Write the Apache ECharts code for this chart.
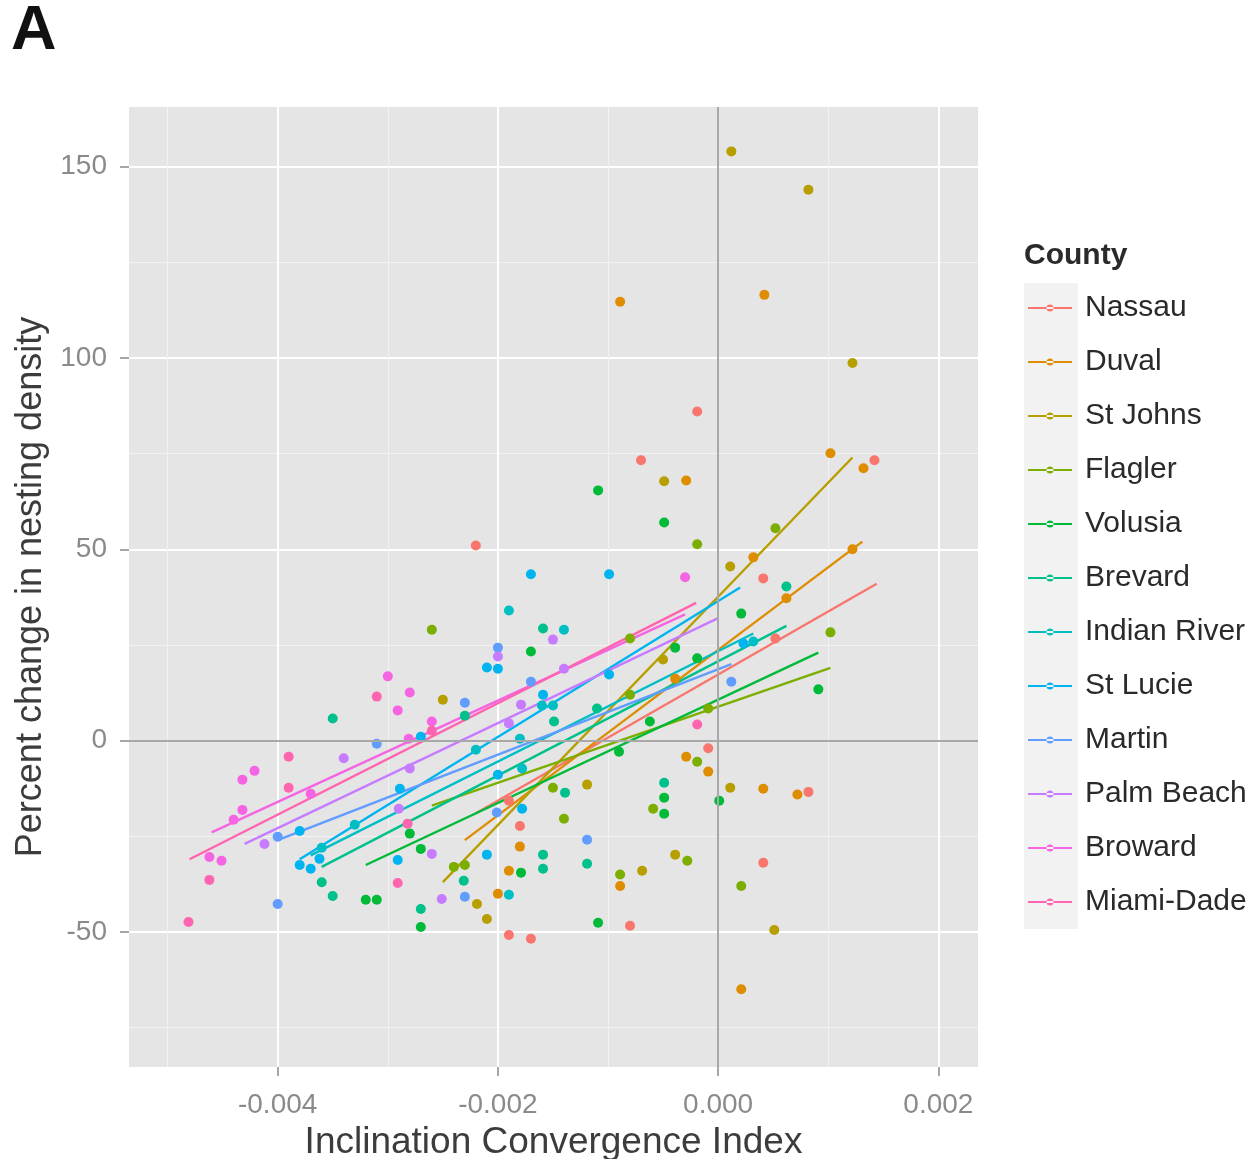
<!DOCTYPE html>
<html>
<head>
<meta charset="utf-8">
<script src="https://cdn.jsdelivr.net/npm/echarts@6/dist/echarts.min.js"></script>
<style>
  html, body { margin: 0; padding: 0; background: #fff; }
  #chart { width: 1254px; height: 1159px; }
</style>
</head>
<body>
<div id="chart"></div>
<script>
// Comtés (ordre de la légende) et couleurs ggplot
const counties = ['Nassau', 'Duval', 'St Johns', 'Flagler', 'Volusia', 'Brevard',
    'Indian River', 'St Lucie', 'Martin', 'Palm Beach', 'Broward', 'Miami-Dade'];
const colors = ['#F8766D', '#DE8C00', '#B79F00', '#7CAE00', '#00BA38', '#00C08B',
    '#00BFC4', '#00B4F0', '#619CFF', '#C77CFF', '#F564E3', '#FF64B0'];

// Points : [indice, variation %]
const nassau = [[-0.00019, 86], [-0.0007, 73.3], [0.00142, 73.3], [-0.0022, 51], [0.00041, 42.4],
    [0.00052, 26.7], [-0.00009, -2], [0.00082, -13.4], [0.00041, -31.9], [-0.0008, -48.4],
    [-0.0018, -22.3], [-0.0019, -50.8], [-0.0017, -51.8], [-0.0019, -15.7]];
const duval = [[0.00042, 116.5], [-0.00089, 114.7], [0.00102, 75.1], [0.00132, 71.2], [-0.00029, 68],
    [0.00032, 47.9], [0.00122, 50], [0.00062, 37.2], [-0.00039, 16.2], [-0.00029, -4.2], [-0.00009, -8.1],
    [0.00041, -12.6], [0.00072, -14.1], [-0.00089, -38], [0.00021, -65], [-0.0018, -27.7],
    [-0.0019, -34], [-0.002, -40]];
const stJohns = [[0.00012, 154], [0.00082, 144], [0.00122, 98.7], [-0.00049, 67.8], [0.00011, 45.5],
    [-0.0005, 21.2], [-0.00119, -11.5], [0.00011, -12.3], [-0.00039, -29.8], [-0.00069, -34],
    [0.00051, -49.5], [-0.0025, 10.7], [-0.00219, -42.7], [-0.0021, -46.6]];
const flagler = [[-0.00019, 51.3], [0.00052, 55.5], [0.00102, 28.3], [-0.0008, 26.7], [-0.0008, 12],
    [-0.00009, 8.4], [-0.00019, -5.5], [-0.00059, -17.8], [-0.00028, -31.4], [-0.00089, -35],
    [0.00021, -38], [-0.0015, -12.3], [-0.0014, -20.4], [-0.0024, -33], [-0.0026, 29], [-0.0023, -32.5]];
const volusia = [[-0.00109, 65.4], [-0.00049, 57], [0.00021, 33.2], [0.00091, 13.4], [-0.00039, 24.3],
    [-0.00019, 21.5], [-0.00049, -14.9], [-0.00049, -19.1], [0.00001, -15.7], [-0.00109, -47.6],
    [-0.0017, 23.3], [-0.0009, -2.9], [-0.00062, 5], [-0.0027, -28.3], [-0.00179, -34.5],
    [-0.0027, -48.7], [-0.0032, -41.6], [-0.0031, -41.6], [-0.0028, -24.3]];
const brevard = [[0.00062, 40.3], [-0.0011, 8.4], [-0.00049, -11], [-0.00119, -32.2], [-0.00139, -13.6],
    [-0.00159, -29.8], [-0.00159, -33.5], [-0.00231, -36.6], [-0.0027, -44], [-0.00159, 29.3],
    [-0.0023, 6.5], [-0.00149, 5], [-0.0035, 5.8], [-0.0036, -37], [-0.0035, -40.6]];
const indianRiver = [[-0.0019, 34], [-0.0014, 29], [-0.0015, 9.2], [-0.0016, 9.2], [-0.0018, 0.5],
    [-0.0022, -2.4], [-0.00178, -7.3], [-0.0019, -40.3], [0.00032, 25.9], [-0.0036, -28], [-0.0033, -22]];
const stLucie = [[-0.0038, -23.6], [-0.0038, -32.5], [-0.0037, -33.5], [-0.00362, -30.9], [-0.00291, -31.2],
    [-0.00289, -12.6], [-0.0027, 1], [-0.0021, 19.1], [-0.002, 18.8], [-0.0017, 43.5], [-0.00099, 43.5],
    [-0.00099, 17.3], [-0.00159, 12], [-0.0021, -29.8], [-0.00178, -17.8], [-0.002, -8.9], [0.00023, 25.4]];
const martin = [[-0.004, -25.1], [-0.004, -42.7], [-0.0031, -0.8], [-0.002, 24.3], [-0.0023, 9.9],
    [-0.0017, 15.4], [-0.0023, -40.8], [-0.00201, -18.8], [-0.00119, -25.9], [0.00012, 15.4]];
const palmBeach = [[-0.0034, -4.6], [-0.00412, -27], [-0.0026, -29.6], [-0.00251, -41.4], [-0.0015, 26.4],
    [-0.002, 22], [-0.0014, 18.8], [-0.0028, -7.3], [-0.0029, -17.8], [-0.0019, 4.5], [-0.00179, 9.4]];
const broward = [[-0.003, 16.8], [-0.0028, 12.6], [-0.00291, 7.9], [-0.00432, -10.2], [-0.00421, -7.9],
    [-0.0037, -13.9], [-0.0044, -20.7], [-0.00432, -18.1], [-0.00462, -30.4], [-0.00451, -31.4],
    [-0.0026, 5], [-0.00281, 0.5], [-0.0003, 42.7]];
const miamiDade = [[-0.00481, -47.4], [-0.00462, -36.4], [-0.0039, -4.2], [-0.0039, -12.3],
    [-0.00291, -37.2], [-0.00282, -21.7], [-0.0031, 11.5], [-0.0026, 2.6], [-0.00019, 4.2]];

const points = [nassau, duval, stJohns, flagler, volusia, brevard,
    indianRiver, stLucie, martin, palmBeach, broward, miamiDade];

// Droites de régression : [x début, y début, x fin, y fin]
const fits = [
    [-0.0022, -19, 0.00144, 41],
    [-0.0023, -26, 0.00131, 52],
    [-0.0025, -37, 0.00122, 74],
    [-0.0026, -17, 0.00102, 19],
    [-0.0032, -32.5, 0.00091, 23],
    [-0.0036, -33, 0.00062, 30],
    [-0.0037, -30, 0.00032, 28],
    [-0.0038, -31, 0.0002, 40],
    [-0.0040, -26, 0.00012, 20],
    [-0.0043, -27, 0.0, 32],
    [-0.0046, -24, -0.0003, 33],
    [-0.0048, -31, -0.0002, 36]
];

const xTicks = [-0.004, -0.002, 0, 0.002];
const xMinor = [-0.005, -0.003, -0.001, 0.001];
const yTicks = [-50, 0, 50, 100, 150];
const yMinor = [-75, -25, 25, 75, 125];

const X_MIN = -0.00535, X_MAX = 0.00236;
const Y_MIN = -85.3, Y_MAX = 165.6;

const FONT = 'Liberation Sans';
const labelStyle = { color: '#8A8A8A', fontSize: 28, fontFamily: FONT };

function mainAxis(ticks, min, max, fmt, margin) {
    return {
        type: 'value', min: min, max: max,
        axisLine: { show: false, onZero: false },
        axisTick: { show: true, length: 9, lineStyle: { color: '#8A8A8A', width: 1.5 }, customValues: ticks },
        axisLabel: Object.assign({ customValues: ticks, formatter: fmt, margin: margin }, labelStyle),
        splitLine: { show: true, lineStyle: { color: '#ffffff', width: 2 } }
    };
}

function minorAxis(ticks, min, max) {
    return {
        type: 'value', min: min, max: max, show: true,
        axisLine: { show: false, onZero: false },
        axisTick: { show: false, customValues: ticks },
        axisLabel: { show: false, customValues: ticks },
        splitLine: { show: true, lineStyle: { color: '#F2F2F2', width: 1 } }
    };
}

const series = [];

// Axes zéro (gris)
series.push({
    type: 'line', data: [], z: 1, silent: true,
    markLine: {
        symbol: 'none', silent: true, label: { show: false },
        lineStyle: { color: '#A8A8A8', width: 2, type: 'solid' },
        data: [{ xAxis: 0 }, { yAxis: 0 }]
    }
});

counties.forEach((name, i) => {
    series.push({
        name: name, type: 'scatter', data: points[i], symbolSize: 10, z: 3,
        itemStyle: { color: colors[i], opacity: 1 }
    });
    const f = fits[i];
    series.push({
        name: name, type: 'line', data: [[f[0], f[1]], [f[2], f[3]]],
        showSymbol: false, z: 2,
        lineStyle: { color: colors[i], width: 2.4 },
        itemStyle: { color: colors[i] }
    });
});

// Clé de légende : trait + point (boîte 44 x 7)
const keyIcon = 'path://M0,2.5h44v2h-44z M22,3.5m-3.5,0a3.5,3.5 0 1,0 7,0a3.5,3.5 0 1,0 -7,0';

const chart = echarts.init(document.getElementById('chart'), null, { renderer: 'canvas' });
chart.setOption({
    backgroundColor: '#ffffff',
    animation: false,
    grid: {
        left: 129, right: 276, top: 107, bottom: 92, outerBoundsMode: 'none',
        show: true, backgroundColor: '#E5E5E5', borderWidth: 0
    },
    xAxis: [
        minorAxis(xMinor, X_MIN, X_MAX),
        Object.assign(mainAxis(xTicks, X_MIN, X_MAX, v => v.toFixed(3), 24), {
            position: 'bottom',
            name: 'Inclination Convergence Index', nameLocation: 'middle', nameGap: 54,
            nameTextStyle: { color: '#3C3C3C', fontSize: 37, fontFamily: FONT }
        })
    ],
    yAxis: [
        minorAxis(yMinor, Y_MIN, Y_MAX),
        Object.assign(mainAxis(yTicks, Y_MIN, Y_MAX, v => String(v), 22), {
            position: 'left',
            name: 'Percent change in nesting density', nameLocation: 'middle', nameGap: 76,
            nameTextStyle: { color: '#3C3C3C', fontSize: 36, fontFamily: FONT }
        })
    ],
    series: series.map(s => Object.assign(s, { xAxisIndex: 1, yAxisIndex: 1 })),
    legend: {
        orient: 'vertical', left: 1023, top: 288,
        data: counties, icon: keyIcon,
        itemWidth: 44, itemHeight: 7, itemGap: 24,
        selectedMode: false,
        textStyle: { color: '#2A2A2A', fontSize: 30, lineHeight: 30, fontFamily: FONT, padding: [0, 0, 0, 8] }
    },
    graphic: [
        { type: 'rect', shape: { x: 1024, y: 283, width: 54, height: 646 }, style: { fill: '#F2F2F2' }, z: -1 },
        { type: 'text', left: 1024, top: 241, style: { text: 'County', fill: '#2A2A2A', font: 'bold 30px "Liberation Sans"' } },
        { type: 'text', left: 11, top: 0, style: { text: 'A', fill: '#111', font: 'bold 63px "Liberation Sans"' } }
    ]
});

window.addEventListener('resize', () => chart.resize());
</script>
</body>
</html>
